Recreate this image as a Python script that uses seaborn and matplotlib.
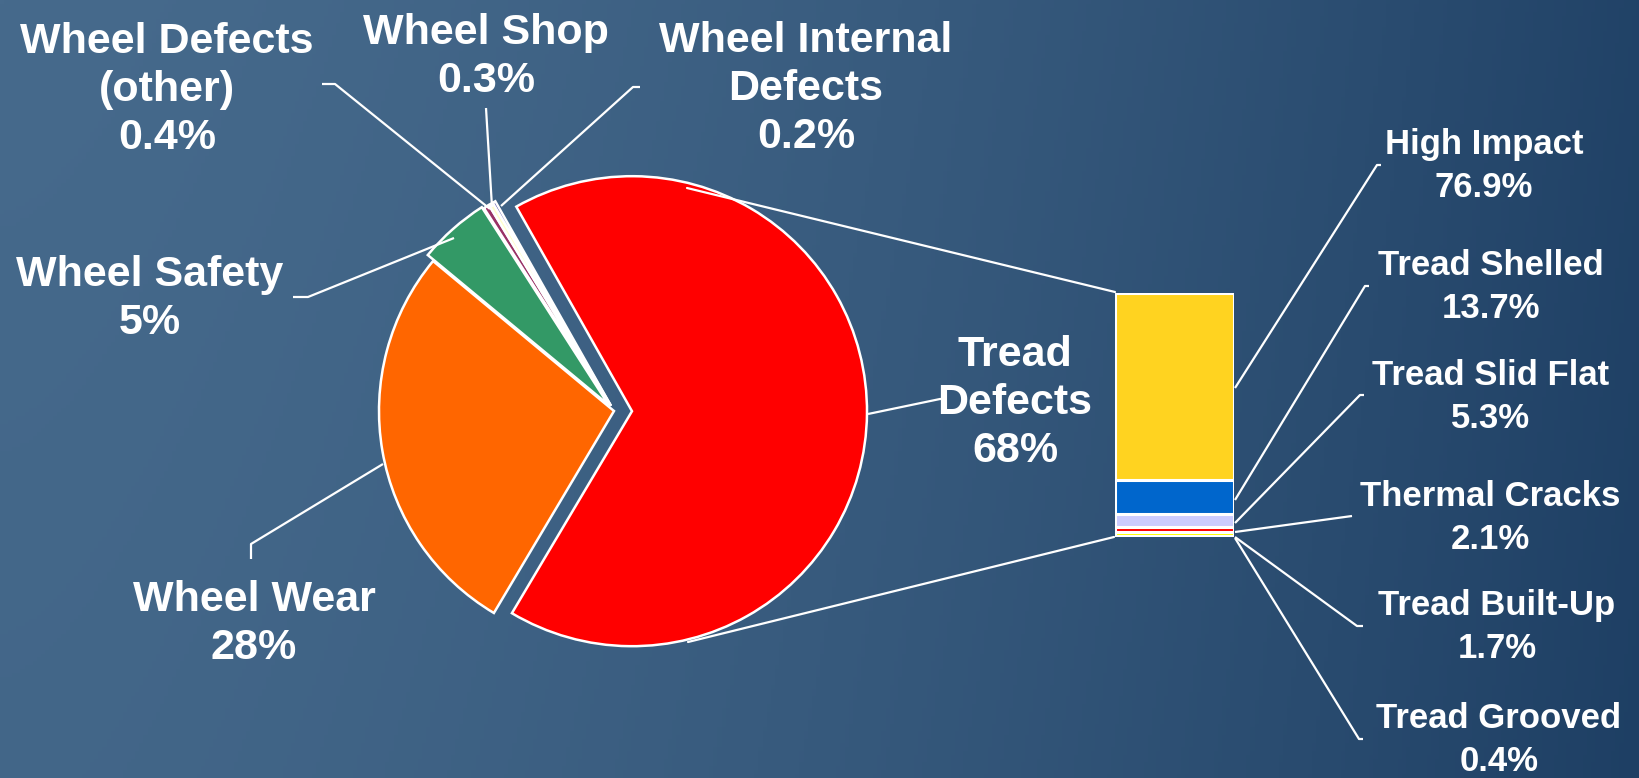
import numpy as np
import matplotlib
matplotlib.use("Agg")
import matplotlib.pyplot as plt
import seaborn as sns

# pie part (share of all wheel removals)
pie_labels = ["Tread\nDefects", "Wheel Wear", "Wheel Safety",
              "Wheel Defects\n(other)", "Wheel Shop", "Wheel Internal\nDefects"]
pie_pct = [68, 28, 5, 0.4, 0.3, 0.2]
pie_colors = ["#FF0000", "#FF6600", "#339966", "#993366", "#FFFFCC", "#000080"]

# bar part (breakdown of tread defects), top to bottom
bar_labels = ["High Impact", "Tread Shelled", "Tread Slid Flat",
              "Thermal Cracks", "Tread Built-Up", "Tread Grooved"]
bar_pct = [76.9, 13.7, 5.3, 2.1, 1.7, 0.4]
bar_colors = ["#FFD320", "#0066CC", "#CCCCFF", "#FF0000", "#FFFF00", "#FFFFFF"]

W, H = 1640, 778

sns.set_style("white")
plt.rcParams["font.family"] = ["Liberation Sans", "DejaVu Sans"]
plt.rcParams["font.weight"] = "bold"


def py(y):
    # pixel row (from top) -> data y
    return H - y


fig = plt.figure(figsize=(W / 100, H / 100), dpi=100)

# background gradient
bg = fig.add_axes([0, 0, 1, 1], zorder=0)
xx = np.linspace(0, 1, 400)[None, :]
yy = np.linspace(0, 1, 200)[:, None]
t = np.clip(xx ** 1.6 * 0.85 + yy * 0.08, 0, 1)
left = np.array([70, 106, 140]) / 255
right = np.array([27, 60, 97]) / 255
img = left[None, None, :] * (1 - t[..., None]) + right[None, None, :] * t[..., None]
bg.imshow(img, extent=[0, W, 0, H], aspect="auto", origin="upper")
bg.set_axis_off()

ax = fig.add_axes([0, 0, 1, 1], zorder=1)
ax.patch.set_alpha(0)

explode = [18, 0, 8, 6, 6, 6]
ax.pie(pie_pct, colors=pie_colors, startangle=119.5, counterclock=False,
       center=(614, py(411)), radius=235, explode=explode,
       wedgeprops=dict(edgecolor="white", linewidth=1.8), labeldistance=None)
ax.set_xlim(0, W)
ax.set_ylim(0, H)
ax.set_aspect("equal")
ax.set_axis_off()

lw = 1.6
pie_text_pos = [(1015, 403), (254, 624), (150, 299), (167, 90), (486, 57), (806, 89)]
for lab, v, (x, y) in zip(pie_labels, pie_pct, pie_text_pos):
    ax.text(x, py(y), f"{lab}\n{v:g}%", ha="center", va="center",
            fontsize=31, fontweight="bold", color="white", linespacing=1.25)

pie_leaders = [
    [(868, 414), (940, 399), (946, 399)],
    [(251, 559), (251, 544), (383, 464)],
    [(293, 297), (308, 297), (454, 238)],
    [(322, 84), (335, 84), (490, 209)],
    [(486, 108), (492, 207)],
    [(640, 87), (633, 87), (501, 206)],
]
for pts in pie_leaders:
    xs, ys = zip(*pts)
    ax.plot(xs, [py(v) for v in ys], color="white", lw=lw, solid_capstyle="butt")

# connectors from the pie wedge to the bar
for pts in [[(687, 188), (1115, 292)], [(688, 642), (1114, 537)]]:
    xs, ys = zip(*pts)
    ax.plot(xs, [py(v) for v in ys], color="white", lw=lw)

bar_text_pos = [(1484, 166), (1491, 287), (1491, 397), (1490, 518), (1497, 627), (1499, 740)]
for lab, v, (x, y) in zip(bar_labels, bar_pct, bar_text_pos):
    ax.text(x, py(y), f"{lab}\n{v:g}%", ha="center", va="center",
            fontsize=25, fontweight="bold", color="white", linespacing=1.38)

bar_leaders = [
    [(1381, 165), (1377, 165), (1235, 388)],
    [(1369, 286), (1365, 286), (1235, 500)],
    [(1364, 395), (1360, 395), (1235, 523)],
    [(1352, 516), (1235, 532)],
    [(1363, 626), (1357, 626), (1235, 537)],
    [(1363, 739), (1359, 739), (1235, 538)],
]
for pts in bar_leaders:
    xs, ys = zip(*pts)
    ax.plot(xs, [py(v) for v in ys], color="white", lw=lw, solid_capstyle="butt")

# stacked bar: draw cumulative layers, tallest first
bx0, bx1, by0, by1 = 1115, 1234, 293, 537
bax = fig.add_axes([bx0 / W, py(by1) / H, (bx1 - bx0) / W, (by1 - by0) / H], zorder=2)
bax.patch.set_alpha(0)
cum = np.cumsum(bar_pct[::-1])[::-1]
for c, col in zip(cum, bar_colors):
    sns.barplot(x=[0], y=[c], color=col, width=1.0, edgecolor="white",
                linewidth=2.2, saturation=1, ax=bax)
bax.set_xlim(-0.5, 0.5)
bax.set_ylim(0, sum(bar_pct))
bax.set_axis_off()

fig.savefig("out.png", dpi=100)
